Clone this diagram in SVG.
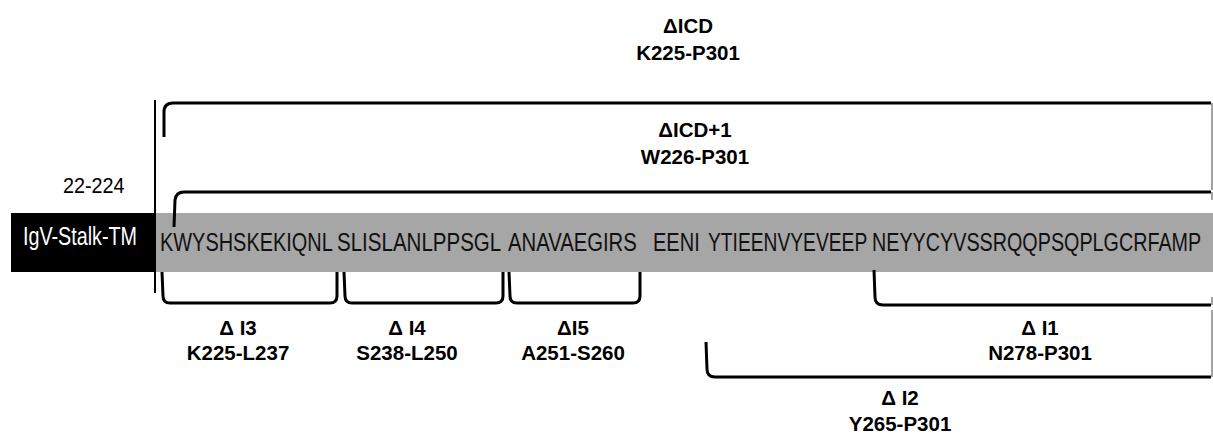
<svg xmlns="http://www.w3.org/2000/svg" width="1213" height="437" viewBox="0 0 1213 437">
<style>
.bold{font-family:"Liberation Sans",Arial,sans-serif;font-weight:bold;font-size:20.5px;fill:#000;text-anchor:middle}
.seq{font-family:"Liberation Sans",Arial,sans-serif;font-size:26px;fill:#111}
.reg{font-family:"Liberation Sans",Arial,sans-serif;font-size:22px;fill:#000}
.br{fill:none;stroke:#000;stroke-width:3;stroke-linejoin:round;stroke-linecap:butt}
.thin{fill:none;stroke:#444;stroke-width:1}
</style>
<rect width="1213" height="437" fill="#fff"/>
<g id="igv-stalk-tm">
<rect x="11" y="213" width="145" height="59" fill="#000"/>
<text transform="translate(23,245) scale(0.79,1)" class="seq" style="font-size:25px;fill:#fff">IgV-Stalk-TM</text>
</g>
<g id="label-22-224">
<text transform="translate(63,193) scale(0.9,1)" class="reg">22-224</text>
</g>
<g id="sequence">
<rect x="156" y="213" width="1057" height="59" fill="#a6a6a6"/>
<text transform="translate(160,251) scale(0.767,1)" class="seq">KWYSHSKEKIQNL</text>
<text transform="translate(337,251) scale(0.79,1)" class="seq">SLISLANLPPSGL</text>
<text transform="translate(508,251) scale(0.78,1)" class="seq">ANAVAEGIRS</text>
<text transform="translate(653,251) scale(0.77,1)" class="seq">EENI</text>
<text transform="translate(708,251) scale(0.74,1)" class="seq">YTIEENVYEVEEP</text>
<text transform="translate(872,251) scale(0.76,1)" class="seq">NEYYCYVSSRQQPSQPLGCRFAMP</text>
</g>
<g id="connectors">
<path class="br" style="stroke-width:2" d="M155,100 L155,293"/>
<path class="br" d="M164,137 L164,112 Q164,103 173,103 L1211,103"/>
<path class="thin" d="M1212,103 L1212,190"/>
<path class="br" d="M174,227 L175,200 Q176,192 184,192 L1211,192"/>
<path class="thin" d="M1212,192 L1212,200"/>
<path class="br" d="M162,272 L163,296 Q163,303 170,303 L330,303 Q337,303 337,296 L337,272"/>
<path class="br" d="M344,272 L345,296 Q345,303 352,303 L496,303 Q503,303 503,296 L503,272"/>
<path class="br" d="M509,272 L510,296 Q510,303 517,303 L633,303 Q640,303 640,296 L640,272"/>
<path class="br" d="M874,270 L875,297 Q875,305 883,305 L1211,305"/>
<path class="thin" d="M1212,297 L1212,305"/>
<path class="br" d="M706,342 L707,369 Q707,377 715,377 L1211,377"/>
<path class="thin" d="M1212,310 L1212,377"/>
</g>
<g id="dICD">
<text x="688" y="33" class="bold">ΔICD</text>
<text x="688" y="60" class="bold">K225-P301</text>
</g>
<g id="dICD1">
<text x="695" y="137" class="bold">ΔICD+1</text>
<text x="695" y="164" class="bold">W226-P301</text>
</g>
<g id="dI3">
<text x="238" y="335" class="bold">Δ I3</text>
<text x="238" y="360" class="bold">K225-L237</text>
</g>
<g id="dI4">
<text x="407" y="335" class="bold">Δ I4</text>
<text x="407" y="360" class="bold">S238-L250</text>
</g>
<g id="dI5">
<text x="573" y="335" class="bold">ΔI5</text>
<text x="573" y="360" class="bold">A251-S260</text>
</g>
<g id="dI1">
<text x="1040" y="335" class="bold">Δ I1</text>
<text x="1040" y="360" class="bold">N278-P301</text>
</g>
<g id="dI2">
<text x="900" y="405" class="bold">Δ I2</text>
<text x="900" y="431" class="bold">Y265-P301</text>
</g>
</svg>
